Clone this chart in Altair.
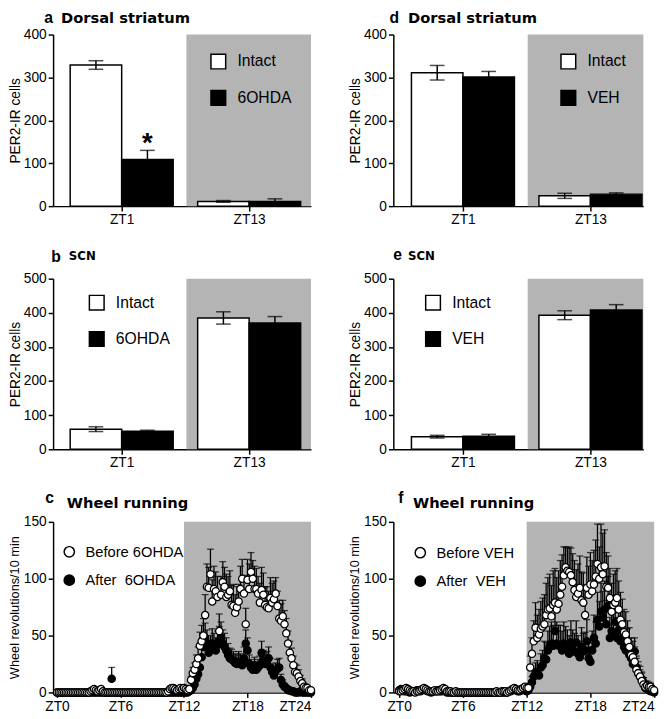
import altair as alt
import pandas as pd

FONT = "Liberation Sans"
TFONT = "DejaVu Sans"
GREY = "#b4b4b4"

# ---------------- bar panels (PER2-IR cells) ----------------
zt_groups = ["ZT1", "ZT13"]
group_pos = [0, 1]

a_intact = [329, 11]
a_intact_sem = [10, 2]
a_ohda = [109, 11]
a_ohda_sem = [21, 6]

b_intact = [59, 385]
b_intact_sem = [7, 18]
b_ohda = [53, 370]
b_ohda_sem = [3, 19]

d_intact = [311, 24]
d_intact_sem = [17, 6]
d_veh = [301, 28]
d_veh_sem = [13, 3]

e_intact = [37, 393]
e_intact_sem = [4, 13]
e_veh = [38, 408]
e_veh_sem = [6, 16]

# ---------------- wheel running (10-min bins, ZT0..ZT24) ----------------
c_before_light = [0,0,0,0,0,0,0,0,0,0,0,0,
                  0,0,0,0,0,0,0,1,2,3,2,1,
                  2,3,1,0,0,0,0,0,0,0,0,0,
                  0,0,0,0,0,0,0,0,0,0,0,0,
                  0,0,0,0,0,0,0,0,0,0,0,0,
                  0,0,0,1,3,4,4,3,2,3,4,3]
c_before_dark = [4,3,2,3,11,17,20,25,30,41,45,50,
                 68,93,92,104,80,91,89,84,54,86,97,93,
                 84,86,89,77,76,70,75,80,91,100,87,60,
                 99,91,106,100,91,91,87,79,90,86,77,75,
                 74,83,79,82,87,76,65,63,67,60,52,43,
                 35,30,24,18,17,14,10,8,5,4,4,2,2]
c_before_sem_light = [0,0,0,0,0,0,0,0,0,0,0,0,
                      0,0,0,0,0,0,0,1,1,1,1,1,
                      1,1,1,0,0,0,0,0,0,0,0,0,
                      0,0,0,0,0,0,0,0,0,0,0,0,
                      0,0,0,0,0,0,0,0,0,0,0,0,
                      0,0,0,1,1,1,1,1,1,1,1,1]
c_before_sem_dark = [1,1,1,1,3,5,6,8,10,12,14,15,
                     18,20,18,22,19,20,17,18,15,16,18,17,
                     20,16,18,17,19,16,18,15,20,17,16,14,
                     18,22,17,16,20,18,15,17,20,19,16,18,
                     15,18,17,16,14,13,16,15,14,12,13,11,
                     10,9,8,7,7,6,5,4,3,3,2,2,1]
c_after_light = [0,0,0,0,0,0,0,0,0,0,0,0,
                 0,0,0,0,0,0,0,0,0,0,0,0,
                 0,0,0,0,0,0,0,12,0,0,0,0,
                 0,0,0,0,0,0,0,0,0,0,0,0,
                 0,0,0,0,0,0,0,0,0,0,0,0,
                 0,0,0,0,0,0,0,0,0,0,0,0]
c_after_sem_light = [0,0,0,0,0,0,0,0,0,0,0,0,
                     0,0,0,0,0,0,0,0,0,0,0,0,
                     0,0,0,0,0,0,0,10,0,0,0,0,
                     0,0,0,0,0,0,0,0,0,0,0,0,
                     0,0,0,0,0,0,0,0,0,0,0,0,
                     0,0,0,0,0,0,0,0,0,0,0,0]
c_after_dark = [0,0,0,1,2,4,7,12,16,22,31,40,
                48,43,35,38,43,40,37,42,45,48,43,40,
                37,33,30,29,28,26,25,27,26,24,30,43,
                37,25,22,20,23,20,22,24,35,28,25,27,
                30,22,18,15,19,21,22,11,7,5,4,2,
                2,1,1,0,0,0,1,0,0,0,0,0,0]
c_after_sem_dark = [0,0,0,1,1,2,3,4,5,7,9,11,
                    13,12,11,12,13,12,11,12,13,14,12,12,
                    11,10,9,9,8,8,8,9,8,8,10,12,
                    11,8,7,7,8,7,7,8,10,9,8,9,
                    10,8,7,6,7,8,8,5,4,3,2,1,
                    1,1,1,0,0,0,1,0,0,0,0,0,0]

f_before_light = [1,1,2,3,4,3,2,1,1,0,1,1,
                  2,3,4,3,2,1,1,1,2,1,1,2,
                  3,4,3,1,1,1,0,0,1,0,0,0,
                  0,0,0,0,0,0,0,0,0,0,0,0,
                  0,0,0,0,0,0,0,1,0,0,1,1,
                  1,0,1,2,3,4,3,2,2,3,4,5]
f_before_dark = [4,4,22,34,45,57,48,51,56,58,60,68,
                 73,74,67,77,79,73,78,86,93,103,110,107,
                 106,103,97,90,84,87,92,81,79,68,92,86,
                 95,89,95,102,113,100,110,104,111,93,92,83,
                 71,77,79,83,73,64,60,53,51,45,40,33,
                 31,27,20,17,14,10,7,5,6,5,5,3,2]
f_before_sem_light = [1,1,1,1,2,1,1,1,1,0,1,1,
                      1,1,2,1,1,1,1,1,1,1,1,1,
                      1,2,1,1,1,1,0,0,1,0,0,0,
                      0,0,0,0,0,0,0,0,0,0,0,0,
                      0,0,0,0,0,0,0,1,0,0,1,1,
                      1,0,1,1,1,2,1,1,1,1,2,2]
f_before_sem_dark = [2,2,10,14,18,22,20,22,24,25,26,28,
                     28,30,27,30,30,28,29,30,28,25,18,20,
                     22,24,25,26,24,26,28,25,26,24,27,25,
                     28,27,30,32,35,28,38,36,32,30,28,26,
                     25,27,28,26,25,24,22,20,20,18,17,15,
                     14,13,12,10,9,8,6,5,4,4,3,2,1]
f_after_light = [2,3,2,1,1,1,0,1,1,1,2,2,
                 1,2,3,2,1,1,0,1,1,1,2,1,
                 1,2,1,0,0,0,0,0,0,0,0,0,
                 0,0,0,0,0,0,0,0,0,0,0,0,
                 0,0,0,0,0,0,0,0,0,0,0,0,
                 0,0,1,1,2,3,2,1,1,2,3,2]
f_after_sem_light = [1,1,1,1,1,1,0,1,1,1,1,1,
                     1,1,1,1,1,1,0,1,1,1,1,1,
                     1,1,1,0,0,0,0,0,0,0,0,0,
                     0,0,0,0,0,0,0,0,0,0,0,0,
                     0,0,0,0,0,0,0,0,0,0,0,0,
                     0,0,1,1,1,1,1,1,1,1,1,1]
f_after_dark = [1,2,5,9,14,17,18,15,22,24,30,29,
                37,40,43,41,54,43,41,41,37,43,40,38,
                34,44,38,36,44,34,31,40,36,37,45,30,
                27,37,48,43,64,58,71,66,73,60,76,48,
                54,51,62,48,55,45,47,40,37,41,33,30,
                25,36,22,17,14,12,9,4,3,2,1,1,0]
f_after_sem_dark = [1,1,3,5,7,9,10,9,12,13,15,15,
                    17,18,19,18,22,19,18,18,17,19,18,17,
                    16,19,17,16,19,16,14,17,16,16,19,14,
                    13,17,20,19,24,22,25,23,25,21,26,18,
                    20,19,22,18,20,17,17,15,14,15,12,11,
                    10,12,8,7,6,5,4,3,2,1,1,1,0]

wheel_ticks = [0, 6, 12, 18, 24]
bin_hours = 1 / 6
dark_phase = [12, 24]

HALF = 0.404  # bar width in group units


def panel_text(letter, title, lx, ly, tx, ty, tsize):
    lt = alt.Chart(pd.DataFrame({"t": [letter]})).mark_text(
        font=FONT, fontSize=16, fontWeight="bold", align="left", baseline="alphabetic", color="black"
    ).encode(x=alt.value(lx), y=alt.value(ly), text="t:N")
    tt = alt.Chart(pd.DataFrame({"t": [title]})).mark_text(
        font=TFONT, fontSize=tsize, fontWeight="bold", align="left", baseline="alphabetic", color="black"
    ).encode(x=alt.value(tx), y=alt.value(ty), text="t:N")
    return [lt, tt]


def bar_panel(letter, title, intact, intact_sem, treat, treat_sem, treat_name,
              ymax, yticks, width, height, xdom, dark_start, leg_xy, txt, star=False):
    rows = []
    for gi, pos in enumerate(group_pos):
        rows.append(dict(series="Intact", x0=pos - HALF, x1=pos, xc=pos - HALF / 2,
                         v=intact[gi], lo=intact[gi] - intact_sem[gi], hi=intact[gi] + intact_sem[gi], z=0))
        rows.append(dict(series=treat_name, x0=pos, x1=pos + HALF, xc=pos + HALF / 2,
                         v=treat[gi], lo=treat[gi] - treat_sem[gi], hi=treat[gi] + treat_sem[gi], z=0))
    df = pd.DataFrame(rows)
    xs = alt.Scale(domain=xdom, nice=False, zero=False)
    ys = alt.Scale(domain=[0, ymax], nice=False)
    label_js = "[" + ",".join("'%s'" % g for g in zt_groups) + "][datum.value]"
    xa = alt.Axis(values=group_pos, labelExpr=label_js, title=None, domain=True)
    ya = alt.Axis(values=yticks, title="PER2-IR cells", titlePadding=1, titleFontSize=14)

    shade = alt.Chart(pd.DataFrame({"g0": [dark_start], "g1": [xdom[1]], "y0": [0], "y1": [ymax]})).mark_rect(
        color=GREY).encode(
        x=alt.X("g0:Q", scale=xs, axis=xa), x2="g1:Q",
        y=alt.Y("y0:Q", scale=ys, axis=ya), y2="y1:Q")
    bars = alt.Chart(df).mark_rect(stroke="black", strokeWidth=1.5).encode(
        x=alt.X("x0:Q", scale=xs, axis=xa), x2="x1:Q",
        y=alt.Y("z:Q", scale=ys, axis=ya), y2="v:Q",
        fill=alt.Fill("series:N", scale=alt.Scale(domain=["Intact", treat_name], range=["white", "black"]),
                      legend=alt.Legend(title=None, orient="none", legendX=leg_xy[0], legendY=leg_xy[1],
                                        symbolType="square", symbolSize=225, symbolStrokeColor="black",
                                        symbolStrokeWidth=1.5, labelFontSize=16, labelOffset=11,
                                        rowPadding=16, padding=0)))
    err = alt.Chart(df).mark_rule(color="black", strokeWidth=1.5).encode(
        x=alt.X("xc:Q", scale=xs, axis=xa), y=alt.Y("lo:Q", scale=ys, axis=ya), y2="hi:Q")
    cap_hi = alt.Chart(df).mark_tick(orient="horizontal", size=15, thickness=1.5, color="black").encode(
        x=alt.X("xc:Q", scale=xs, axis=xa), y=alt.Y("hi:Q", scale=ys, axis=ya))
    cap_lo = alt.Chart(df).mark_tick(orient="horizontal", size=15, thickness=1.5, color="black").encode(
        x=alt.X("xc:Q", scale=xs, axis=xa), y=alt.Y("lo:Q", scale=ys, axis=ya))
    layers = [shade, bars, err, cap_hi, cap_lo]
    if star:
        sdf = df[(df.series == treat_name) & (df.xc < 0.5)]
        layers.append(alt.Chart(sdf).mark_text(text="*", font=FONT, fontSize=28, fontWeight="bold",
                                                baseline="alphabetic", dy=2, color="black").encode(
            x=alt.X("xc:Q", scale=xs, axis=xa), y=alt.Y("hi:Q", scale=ys, axis=ya)))
    layers += panel_text(letter, title, *txt)
    return alt.layer(*layers).properties(width=width, height=height)


def wheel_panel(letter, before_name, after_name, b_vals, b_sem, a_vals, a_sem,
                width, height, xdom, leg_xy, txt):
    n = len(b_vals)
    t = [i * bin_hours for i in range(n)]
    dfb = pd.DataFrame({"t": t, "v": b_vals, "s": b_sem, "series": before_name})
    dfa = pd.DataFrame({"t": t, "v": a_vals, "s": a_sem, "series": after_name})
    dfb["hi"] = dfb.v + dfb.s
    dfa["hi"] = dfa.v + dfa.s
    xs = alt.Scale(domain=xdom, nice=False, zero=False)
    ys = alt.Scale(domain=[0, 150], nice=False)
    xa = alt.Axis(values=wheel_ticks, labelExpr="'ZT' + datum.value", title=None)
    ya = alt.Axis(values=[0, 50, 100, 150], title="Wheel revolutions/10 min", titlePadding=2,
                  titleFontSize=13)
    fill = alt.Fill("series:N", scale=alt.Scale(domain=[before_name, after_name], range=["white", "black"]),
                    legend=alt.Legend(title=None, orient="none", legendX=leg_xy[0], legendY=leg_xy[1],
                                      symbolType="circle", symbolSize=110, symbolStrokeColor="black",
                                      symbolStrokeWidth=1.5, labelFontSize=15, labelOffset=9,
                                      rowPadding=12, padding=0))
    shade = alt.Chart(pd.DataFrame({"g0": [dark_phase[0]], "g1": [dark_phase[1]], "y0": [0], "y1": [150]})).mark_rect(
        color=GREY).encode(
        x=alt.X("g0:Q", scale=xs, axis=xa), x2="g1:Q",
        y=alt.Y("y0:Q", scale=ys, axis=ya), y2="y1:Q")
    layers = [shade]
    for d in (dfa, dfb):
        de = d[d.s >= 2]
        layers.append(alt.Chart(de).mark_rule(color="black", strokeWidth=1.3).encode(
            x=alt.X("t:Q", scale=xs, axis=xa), y=alt.Y("v:Q", scale=ys, axis=ya), y2="hi:Q"))
        layers.append(alt.Chart(de).mark_tick(orient="horizontal", size=7, thickness=1.3, color="black").encode(
            x=alt.X("t:Q", scale=xs, axis=xa), y=alt.Y("hi:Q", scale=ys, axis=ya)))
        layers.append(alt.Chart(d).mark_point(shape="circle", filled=True, size=55, stroke="black",
                                              strokeWidth=1.3, opacity=1).encode(
            x=alt.X("t:Q", scale=xs, axis=xa), y=alt.Y("v:Q", scale=ys, axis=ya), fill=fill))
    layers += panel_text(letter, "Wheel running", *txt)
    return alt.layer(*layers).properties(width=width, height=height)


pa = bar_panel("a", "Dorsal striatum", a_intact, a_intact_sem, a_ohda, a_ohda_sem, "6OHDA",
               400, [0, 100, 200, 300, 400], 263, 175, [-0.538, 1.485], 0.508, (160, 19),
               (-9, -12, 8, -12, 15), star=True)
pb = bar_panel("b", "SCN", b_intact, b_intact_sem, b_ohda, b_ohda_sem, "6OHDA",
               500, [0, 100, 200, 300, 400, 500], 263, 174, [-0.538, 1.485], 0.508, (36, 16),
               (-2, -17, 16, -19, 12))
pc = wheel_panel("c", "Before 6OHDA", "After\u00a0 6OHDA",
                 c_before_light + c_before_dark, c_before_sem_light + c_before_sem_dark,
                 c_after_light + c_after_dark, c_after_sem_light + c_after_sem_dark,
                 263, 174, [-0.37, 24], (9, 23), (-8, -19, 14, -14, 15))
pd_ = bar_panel("d", "Dorsal striatum", d_intact, d_intact_sem, d_veh, d_veh_sem, "VEH",
                400, [0, 100, 200, 300, 400], 255, 175, [-0.546, 1.415], 0.508, (170, 19),
                (-4, -12, 15, -12, 15))
pe = bar_panel("e", "SCN", e_intact, e_intact_sem, e_veh, e_veh_sem, "VEH",
               500, [0, 100, 200, 300, 400, 500], 255, 174, [-0.546, 1.415], 0.508, (32, 16),
               (0, -19, 15, -19, 12))
pf = wheel_panel("f", "Before VEH", "After\u00a0 VEH",
                 f_before_light + f_before_dark, f_before_sem_light + f_before_sem_dark,
                 f_after_light + f_after_dark, f_after_sem_light + f_after_sem_dark,
                 266, 174, [-0.55, 24], (20, 24), (5, -19, 20, -14, 15))

chart = alt.concat(pa, pd_, pb, pe, pc, pf, columns=2, spacing={"row": 74, "column": 84},
                   bounds="flush", align="each").resolve_scale(
    fill="independent", x="independent", y="independent"
).properties(padding={"left": 0, "top": -5, "right": 0, "bottom": 0}).configure_axis(
    domainColor="black", domainWidth=1.5, tickColor="black", tickWidth=1.5, tickSize=5,
    labelFont=FONT, labelFontSize=14, labelColor="black", labelPadding=2,
    titleFont=FONT, titleFontSize=13, titleFontWeight="normal", titleColor="black",
    grid=False, zindex=1
).configure_legend(
    labelFont=FONT, labelColor="black"
).configure_view(stroke=None)

chart.save("out.html", embed_options={"renderer": "svg", "actions": False})
